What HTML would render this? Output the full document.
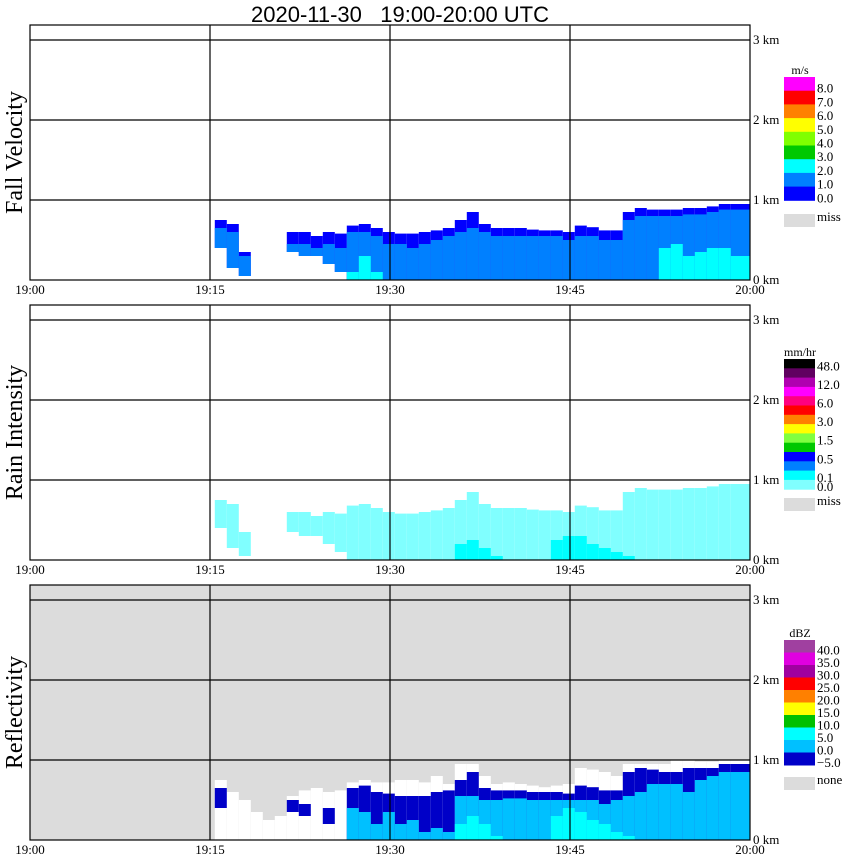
<!DOCTYPE html>
<html><head><meta charset="utf-8"><style>
body{margin:0;background:#fff;width:850px;height:868px;overflow:hidden}
svg{display:block}
</style></head><body>
<svg id="c" width="850" height="868" xmlns="http://www.w3.org/2000/svg">
<text x="400" y="22" text-anchor="middle" font-family="Liberation Sans, sans-serif" font-size="22" style="white-space:pre" xml:space="preserve">2020-11-30   19:00-20:00 UTC</text>
</svg>
<script>
// data per 1-minute bin (index = minutes after 19:00)
const minutes = Array.from({length:60},(_, i)=>i);
const topKm = [0,0,0,0,0,0,0,0,0,0,0,0,0,0,0,0,
 .75,.7,.35,0,0,0,.6,.6,.55,.6,.58,.68,.7,.65,.6,.58,.58,.6,.62,.65,.75,.85,.7,.65,.65,.65,.63,.62,.62,.6,.68,.66,.62,.62,.85,.9,.88,.88,.88,.9,.9,.92,.95,.95];
const baseKm = [0,0,0,0,0,0,0,0,0,0,0,0,0,0,0,0,
 .4,.15,.05,0,0,0,.35,.3,.3,.2,.1,0,0,0,0,0,0,0,0,0,0,0,0,0,0,0,0,0,0,0,0,0,0,0,0,0,0,0,0,0,0,0,0,0];
const fvLightTop = [0,0,0,0,0,0,0,0,0,0,0,0,0,0,0,0,
 .65,.6,.3,0,0,0,.45,.45,.4,.45,.4,.6,.6,.55,.45,.45,.4,.45,.5,.55,.6,.65,.6,.55,.55,.55,.55,.55,.55,.5,.55,.55,.5,.5,.75,.8,.8,.8,.8,.82,.82,.85,.88,.88];
const fvCyanTop = [0,0,0,0,0,0,0,0,0,0,0,0,0,0,0,0,0,0,0,0,0,0,0,0,0,0,0,.1,.3,.1,0,0,0,0,0,0,0,0,0,0,0,0,0,0,0,0,0,0,0,0,0,0,0,.4,.45,.3,.35,.4,.4,.3];
const rainCyanTop = [0,0,0,0,0,0,0,0,0,0,0,0,0,0,0,0,0,0,0,0,0,0,0,0,0,0,0,0,0,0,0,0,0,0,0,0,.2,.25,.15,.05,0,0,0,0,.25,.3,.3,.2,.15,.1,.05,0,0,0,0,0,0,0,0,0];
const reflWhiteTop = [0,0,0,0,0,0,0,0,0,0,0,0,0,0,0,0,
 .75,.6,.5,.35,.25,.3,.55,.62,.65,.6,.62,.72,.75,.72,.72,.75,.75,.72,.8,.7,.95,.95,.8,.7,.72,.7,.68,.66,.68,.7,.9,.88,.85,.8,.95,.95,.95,.95,1.0,1.0,.98,.98,1.0,1.0];
const reflBlueTop = [0,0,0,0,0,0,0,0,0,0,0,0,0,0,0,0,
 .65,0,0,0,0,0,.5,.45,0,.4,0,.65,.68,.6,.58,.55,.55,.55,.6,.62,.75,.85,.65,.62,.62,.62,.6,.6,.6,.58,.68,.66,.62,.62,.85,.9,.88,.85,.85,.9,.9,.9,.95,.95];
const reflLightTop = [0,0,0,0,0,0,0,0,0,0,0,0,0,0,0,0,0,0,0,0,0,0,0,0,0,0,0,.4,.35,.2,.35,.2,.25,.1,.15,.1,.55,.55,.5,.5,.52,.52,.5,.5,.5,.5,.5,.5,.45,.5,.55,.6,.7,.7,.7,.6,.75,.8,.85,.85];
const reflCyanTop = [0,0,0,0,0,0,0,0,0,0,0,0,0,0,0,0,0,0,0,0,0,0,0,0,0,0,0,0,0,0,0,0,0,0,0,0,.2,.3,.2,.05,0,0,0,0,.3,.4,.35,.25,.2,.1,.05,0,0,0,0,0,0,0,0,0];
const timeTicks = ["19:00","19:15","19:30","19:45","20:00"];
const kmTicks = ["0 km","1 km","2 km","3 km"];
const panelTitles = ["Fall Velocity","Rain Intensity","Reflectivity"];
const fvLabels = ["8.0","7.0","6.0","5.0","4.0","3.0","2.0","1.0","0.0"];
const fvColors = ["#ff00ff","#ff0000","#ff8000","#ffff00","#80ff00","#00c800","#00ffff","#0080ff","#0000ff"];
const riLabels = ["48.0","","12.0","","6.0","","3.0","","1.5","","0.5","","0.1","0.0"];
const riColors = ["#000000","#600060","#b000b0","#ff00ff","#ff0080","#ff0000","#ff8000","#ffff00","#80ff40","#00c800","#0000ff","#0080ff","#00ffff","#80ffff"];
const dbzLabels = ["40.0","35.0","30.0","25.0","20.0","15.0","10.0","5.0","0.0","\u22125.0"];
const dbzColors = ["#a040a0","#e000e0","#a000a0","#ff0000","#ff8000","#ffff00","#00c000","#00ffff","#00c0ff","#0000c8"];

const svg=document.getElementById('c');
const NS='http://www.w3.org/2000/svg';
const X0=30,X1=750;
const panelTops=[25,305,585];
const OFFSET=-0.6;
function xs(m){return X0+(m/60)*(X1-X0);}
function mk(tag,attrs,parent){const e=document.createElementNS(NS,tag);for(const k in attrs)e.setAttribute(k,attrs[k]);(parent||svg).appendChild(e);return e;}
function ysF(p){const y0=panelTops[p]+255;return km=>y0-km*80;}

panelTitles.forEach((title,p)=>{
  const ys=ysF(p);const top=panelTops[p];const bot=ys(0);
  const g=mk('g',{});
  
  
  if(p===2){const bg=mk('rect',{x:X0,y:top,width:X1-X0,height:bot-top,fill:'#dcdcdc'},g);
    }
  function col(arrTop,arrBase,color,name){
    minutes.forEach(i=>{const t=arrTop[i];const b=arrBase?arrBase[i]:0;if(!t||t<=b)return;
      const xa=Math.max(X0,xs(i+OFFSET));
      const xb=(i===minutes.length-1)?X1:Math.min(X1,xs(i+1+OFFSET));
      const r=mk('rect',{x:xa,y:ys(t),width:xb-xa,height:ys(b)-ys(t),fill:color},g);
      
      });
  }
  if(p===0){
    col(topKm,baseKm,'#0000ff','fv-cell-dark');
    col(fvLightTop,baseKm,'#0080ff','fv-cell');
    col(fvCyanTop,null,'#00ffff','fv-cell-cyan');
  }else if(p===1){
    col(topKm,baseKm,'#80ffff','rain-cell');
    col(rainCyanTop,null,'#00ffff','rain-cell-cyan');
  }else{
    col(reflWhiteTop,null,'#ffffff','refl-cell-weak');
    col(reflBlueTop,baseKm,'#0000c8','refl-cell-dark');
    col(reflLightTop,null,'#00c0ff','refl-cell-light');
    col(reflCyanTop,null,'#00ffff','refl-cell-cyan');
  }
  [1,2,3].forEach(k=>{const l=mk('line',{x1:X0,x2:X1,y1:ys(k),y2:ys(k),stroke:'#000','stroke-width':1.2},g);
    });
  [15,30,45].forEach(m=>{const l=mk('line',{x1:xs(m),x2:xs(m),y1:top,y2:bot,stroke:'#000','stroke-width':1.2},g);
    });
  const fr=mk('rect',{x:X0,y:top,width:X1-X0,height:bot-top,fill:'none',stroke:'#000','stroke-width':1.2},g);
  
  kmTicks.forEach((s,k)=>{const t=mk('text',{x:753,y:ys(k)+4,'font-family':'Liberation Serif, serif','font-size':13},g);t.textContent=s;
    });
  timeTicks.forEach((s,k)=>{const t=mk('text',{x:xs(k*15),y:bot+14,'text-anchor':'middle','font-family':'Liberation Serif, serif','font-size':13},g);t.textContent=s;
    });
  const yt=mk('text',{x:0,y:0,transform:`translate(22,${(top+bot)/2}) rotate(-90)`,'text-anchor':'middle','font-family':'Liberation Serif, serif','font-size':24},g);
  yt.textContent=title;
});

function legend(labels,colors,top,segH,unit,missLabel,missTop,name){
  const g=mk('g',{});
  
  
  const u=mk('text',{x:800,y:top-3,'text-anchor':'middle','font-family':'Liberation Serif, serif','font-size':12},g);u.textContent=unit;
  colors.forEach((c,i)=>{const r=mk('rect',{x:784,y:top+i*segH,width:31,height:segH+0.5,fill:c},g);
    });
  labels.forEach((s,i)=>{if(!s)return;const t=mk('text',{x:817,y:top+(i+1)*segH+2,'font-family':'Liberation Serif, serif','font-size':13},g);t.textContent=s;
    });
  const m=mk('rect',{x:784,y:missTop,width:31,height:13,fill:'#dcdcdc'},g);
  
  const mt=mk('text',{x:817,y:missTop+7,'font-family':'Liberation Serif, serif','font-size':13},g);mt.textContent=missLabel;
  
}
legend(fvLabels,fvColors,77,13.7,'m/s','miss',214,'fall-velocity-legend');
legend(riLabels,riColors,359,9.3,'mm/hr','miss',498,'rain-intensity-legend');
legend(dbzLabels,dbzColors,640,12.5,'dBZ','none',777,'reflectivity-legend');
</script>
</body></html>
